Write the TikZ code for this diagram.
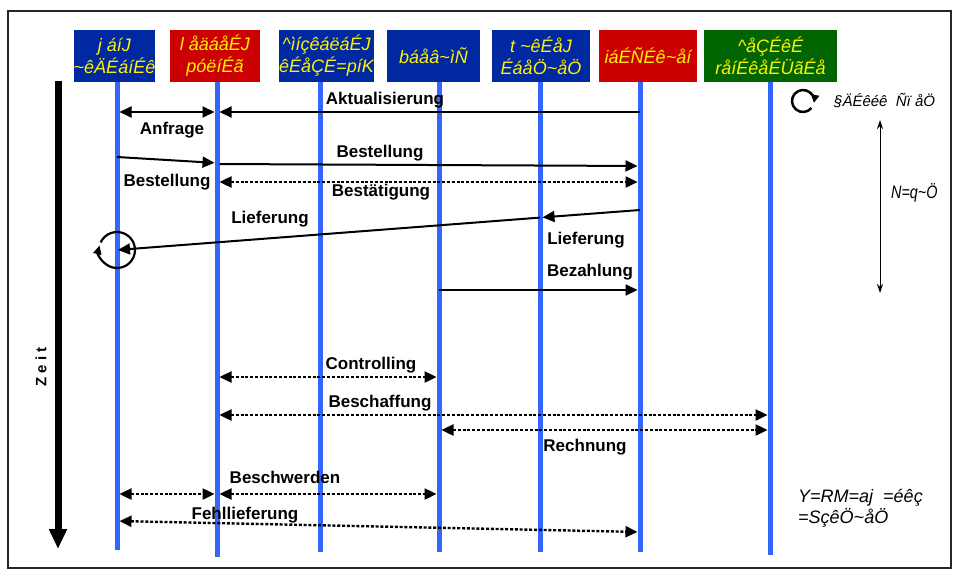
\documentclass[tikz,border=0pt]{standalone}
\usepackage{fontspec}
\setmainfont{Liberation Sans}
\usetikzlibrary{arrows.meta}
\definecolor{kopfblau}{RGB}{0,40,160}
\definecolor{kopfrot}{RGB}{204,0,0}
\definecolor{kopfgruen}{RGB}{0,100,0}
\definecolor{linieblau}{RGB}{51,102,255}
\newcommand{\tld}{\textasciitilde}
\newcommand{\spitze}{Triangle[length=12pt,width=11pt]}
\tikzset{kopf/.style={text=yellow, font=\fontsize{18}{22}\selectfont\itshape, align=center, inner sep=0pt, minimum height=52pt},
  lebenslinie/.style={linieblau, line width=5pt},
  msg/.style={line width=2pt, -{\spitze}, shorten >=2.5pt},
  msgzwei/.style={line width=2.4pt, {\spitze}-{\spitze}, dash pattern=on 3pt off 1.8pt, shorten >=2.5pt, shorten <=2.5pt},
  beschr/.style={font=\fontsize{17}{19}\selectfont\bfseries, inner sep=1pt},
  notiz/.style={font=\fontsize{18}{21}\selectfont\itshape, inner sep=0pt}}

\begin{document}
\begin{tikzpicture}[x=1pt,y=-1pt]
\useasboundingbox (0,0) rectangle (955,572);
\draw[line width=2pt, black!85] (8,11) rectangle (951,568);

% Kopfzeile
\node[kopf, fill=kopfblau, minimum width=81pt] (mit) at (114.5,56) {j áíJ\\\tld êÄÉáíÉê};
\node[kopf, fill=kopfrot, minimum width=90pt] (man) at (215,56) {l åäáåÉJ\\póëíÉã};
\node[kopf, fill=kopfblau, minimum width=93pt] (adm) at (326.5,56) {\textasciicircum ìíçêáëáÉJ\\êÉåÇÉ=píK};
\node[kopf, fill=kopfblau, minimum width=93pt] (ein) at (433.5,56) {báåâ\tld ìÑ};
\node[kopf, fill=kopfblau, minimum width=98pt] (war) at (541,56) {t \tld êÉåJ\\ÉáåÖ\tld åÖ};
\node[kopf, fill=kopfrot, minimum width=98pt] (lie) at (648,56) {iáÉÑÉê\tld åí};
\node[kopf, fill=kopfgruen, minimum width=133pt] (and) at (770.5,56) {\textasciicircum åÇÉêÉ\\råíÉêåÉÜãÉå};

% Lebenslinien
\coordinate (lmi) at (117,0);
\coordinate (lma) at (217,0);
\coordinate (lad) at (320,0);
\coordinate (lei) at (439,0);
\coordinate (lwa) at (540,0);
\coordinate (lli) at (640,0);
\coordinate (lan) at (770,0);
\draw[lebenslinie] (lmi |- 0,82) -- (lmi |- 0,550);
\draw[lebenslinie] (lma |- 0,82) -- (lma |- 0,557);
\draw[lebenslinie] (lad |- 0,82) -- (lad |- 0,552);
\draw[lebenslinie] (lei |- 0,82) -- (lei |- 0,552);
\draw[lebenslinie] (lwa |- 0,82) -- (lwa |- 0,552);
\draw[lebenslinie] (lli |- 0,82) -- (lli |- 0,552);
\draw[lebenslinie] (lan |- 0,82) -- (lan |- 0,555);

% Zeit
\coordinate (zoben) at (58,81);
\coordinate (zunten) at (58,549);
\draw[line width=7pt, -{Triangle[length=20pt,width=17pt]}] (zoben) -- (zunten);
\node[rotate=90, font=\fontsize{15}{17}\selectfont\bfseries] (zeit) at (41,367) {Z e i t};

% Nachrichten
\draw[msg] (lli |- 0,112) -- (lma |- 0,112);
\node[beschr] (akt) at (385,100) {Aktualisierung};
\draw[msg, {\spitze}-{\spitze}, shorten <=2.5pt] (lmi |- 0,112) -- (lma |- 0,112);
\node[beschr] (anf) at (172,130) {Anfrage};

\draw[msg] (lmi |- 0,157) -- (lma |- 0,163);
\node[beschr] (best1) at (167,182) {Bestellung};
\draw[msg, shorten <=2.5pt] (lma |- 0,164) -- (lli |- 0,166);
\node[beschr] (best2) at (380,153) {Bestellung};
\draw[msgzwei] (lma |- 0,182) -- (lli |- 0,182);
\node[beschr] (bestae) at (381,192) {Bestätigung};

\coordinate (lief1) at (lli |- 0,210);
\coordinate (lief2) at (lwa |- 0,217.6);
\coordinate (lief3) at (lmi |- 0,250);
\draw[msg] (lief1) -- (lief2);
\draw[msg, shorten >=1pt] (lief2) -- (lief3);
\node[beschr] (lieferung1) at (586,240) {Lieferung};
\node[beschr] (lieferung2) at (270,219) {Lieferung};
\draw[line width=2.2pt, -{Triangle[length=9pt,width=8pt]}] (lief3) ++(205:18) arc[start angle=205, end angle=555, radius=18];

\draw[msg] (lei |- 0,290) -- (lli |- 0,290);
\node[beschr] (bez) at (590,272) {Bezahlung};

\draw[msgzwei] (lma |- 0,377) -- (lei |- 0,377);
\node[beschr] (contr) at (371,365) {Controlling};
\draw[msgzwei] (lma |- 0,415) -- (lan |- 0,415);
\node[beschr] (beschaff) at (380,403) {Beschaffung};
\draw[msgzwei] (lei |- 0,430) -- (lan |- 0,430);
\node[beschr] (rech) at (585,447) {Rechnung};

\draw[msgzwei] (lmi |- 0,494) -- (lma |- 0,494);
\draw[msgzwei] (lma |- 0,494) -- (lei |- 0,494);
\node[beschr] (beschw) at (285,477) {Beschwerden};
\draw[msgzwei] (lmi |- 0,521) -- (lli |- 0,532);
\node[beschr] (fehl) at (245,515) {Fehllieferung};

% Legende
\coordinate (kreis) at (803,101);
\draw[line width=2.5pt, -{Triangle[length=8pt,width=8pt]}] (kreis) ++(40:11) arc[start angle=40, end angle=370, radius=11];
\node[notiz, anchor=west, font=\fontsize{15}{17}\selectfont\itshape] (pruef) at (834,101) {§ÄÉêéê\ \ Ñï åÖ};
\coordinate (toben) at (880,120);
\coordinate (tunten) at (880,293);
\draw[line width=1pt, {Stealth[length=9pt,width=6pt]}-{Stealth[length=9pt,width=6pt]}] (toben) -- (tunten);
\node[notiz, anchor=west, xscale=0.8] (tag) at (891,193) {N=q\tld Ö};
\node[notiz, anchor=west, align=left] (kosten) at (798,508) {Y=RM=aj \ =éêç\\=SçêÖ\tld åÖ};
\end{tikzpicture}
\end{document}
